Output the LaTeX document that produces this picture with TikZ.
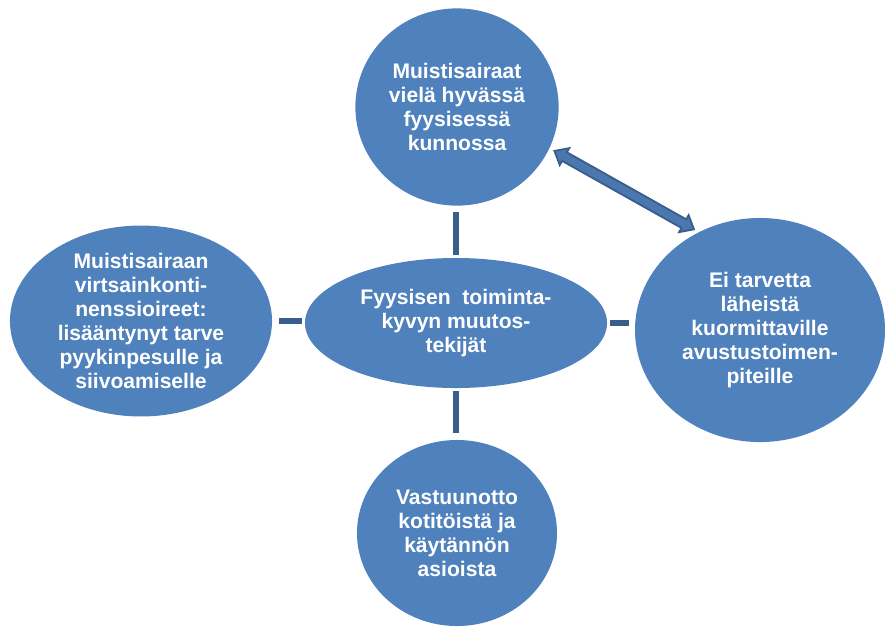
\documentclass[tikz,border=0pt]{standalone}
\usepackage{fontspec}
\setmainfont{Liberation Sans}
\usepackage{tikz}
\usetikzlibrary{shapes.geometric, shapes.arrows, calc}
\definecolor{myblue}{RGB}{79,129,189}
\definecolor{mydarkblue}{RGB}{58,94,140}
\tikzset{
  bubble/.style={ellipse, fill=myblue, inner sep=0pt, align=center,
    text=white, font=\bfseries\fontsize{15}{17}\selectfont},
  link/.style={line width=3.6pt, color=mydarkblue},
  twoway/.style={double arrow, draw=mydarkblue, fill=myblue!92!black, line width=1.3pt,
    inner sep=0.1cm, minimum width=0.46cm, double arrow head extend=0.12cm,
    double arrow tip angle=80}
}

\begin{document}
\begin{tikzpicture}[x=0.025cm, y=-0.025cm]
  \useasboundingbox (0,0) rectangle (885,626);

  % Centre ellipse
  \node[bubble, minimum width=7.55cm, minimum height=3.25cm] (centre) at (456,323)
    {Fyysisen~ toiminta-\\kyvyn muutos-\\tekijät};

  % Surrounding bubbles
  \node[bubble, minimum width=5.08cm, minimum height=4.93cm] (top) at (457,107)
    {Muistisairaat\\vielä hyvässä\\fyysisessä\\kunnossa};
  \node[bubble, minimum width=6.55cm, minimum height=4.7cm] (left) at (141,321)
    {Muistisairaan\\virtsainkonti-\\nenssioireet:\\lisääntynyt tarve\\pyykinpesulle ja\\siivoamiselle};
  \node[bubble, minimum width=6.25cm, minimum height=5.6cm] (right) at (760,330)
    {Ei tarvetta\\läheistä\\kuormittaville\\avustustoimen-\\piteille};
  \node[bubble, minimum width=5.0cm, minimum height=4.65cm] (bottom) at (457,533)
    {Vastuunotto\\kotitöistä ja\\käytännön\\asioista};

  % Links to the centre
  \draw[link, shorten <=4pt, shorten >=2pt] (centre.north |- top.south) -- (centre.north);
  \draw[link, shorten <=2pt, shorten >=5pt] (centre.south) -- (centre.south |- bottom.north);
  \draw[link, shorten <=5pt, shorten >=2pt] (left.east) -- (left.east -| centre.west);
  \draw[link, shorten <=2pt, shorten >=4pt] (centre.east) -- (centre.east -| right.west);

  % Two-way arrow
  \path (top.-24) -- (right.122) node[midway, sloped, twoway, minimum height=4.0cm] (arr) {};
\end{tikzpicture}
\end{document}
